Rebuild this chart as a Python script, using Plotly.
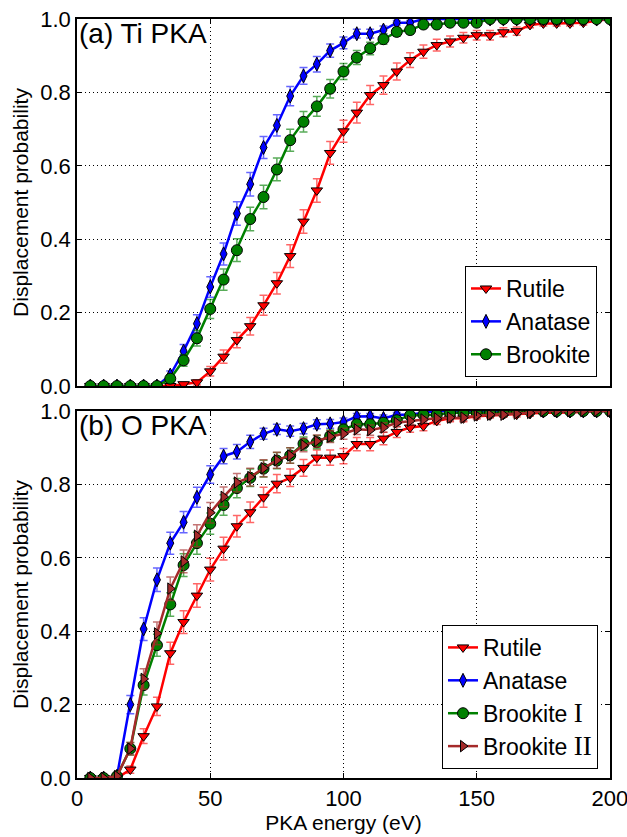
import plotly.graph_objects as go
from plotly.subplots import make_subplots

energy = [5, 10, 15, 20, 25, 30, 35, 40, 45, 50, 55, 60, 65, 70, 75, 80, 85, 90, 95, 100,
          105, 110, 115, 120, 125, 130, 135, 140, 145, 150, 155, 160, 165, 170, 175, 180, 185, 190, 195, 200]

# (a) Ti PKA
ti_rutile = [0, 0, 0, 0, 0, 0, 0, 0.005, 0.01, 0.04, 0.08, 0.125, 0.163, 0.22, 0.28, 0.354, 0.448, 0.533, 0.635, 0.694,
             0.745, 0.793, 0.82, 0.857, 0.888, 0.911, 0.929, 0.939, 0.949, 0.956, 0.956, 0.964, 0.967, 0.984, 0.988, 0.988, 0.988, 0.99, 0.995, 1.0]
ti_rutile_err = [0, 0, 0, 0, 0, 0, 0, 0.005, 0.007, 0.013, 0.018, 0.021, 0.024, 0.027, 0.029, 0.031, 0.032, 0.032, 0.031, 0.03,
                 0.028, 0.026, 0.025, 0.023, 0.02, 0.018, 0.016, 0.015, 0.014, 0.013, 0.013, 0.012, 0.011, 0.008, 0.007, 0.007, 0.007, 0.006, 0.005, 0]
ti_anatase = [0, 0, 0, 0, 0, 0, 0.03, 0.095, 0.17, 0.27, 0.36, 0.47, 0.55, 0.65, 0.71, 0.79, 0.845, 0.877, 0.914, 0.935,
              0.96, 0.96, 0.97, 0.99, 0.99, 1.0, 1.0, 1.0, 1.0, 1.0, 1.0, 1.0, 1.0, 1.0, 1.0, 1.0, 1.0, 1.0, 1.0, 1.0]
ti_anatase_err = [0, 0, 0, 0, 0, 0, 0.011, 0.018, 0.024, 0.028, 0.03, 0.032, 0.032, 0.03, 0.029, 0.026, 0.023, 0.021, 0.018, 0.016,
                  0.012, 0.012, 0.011, 0.006, 0.006, 0, 0, 0, 0, 0, 0, 0, 0, 0, 0, 0, 0, 0, 0, 0]
ti_brookite = [0, 0, 0, 0, 0, 0, 0.02, 0.07, 0.13, 0.21, 0.29, 0.37, 0.455, 0.515, 0.59, 0.67, 0.72, 0.762, 0.81, 0.857,
               0.895, 0.92, 0.945, 0.965, 0.97, 0.985, 0.985, 0.99, 0.99, 0.99, 1.0, 1.0, 1.0, 1.0, 1.0, 1.0, 1.0, 1.0, 1.0, 1.0]
ti_brookite_err = [0, 0, 0, 0, 0, 0, 0.009, 0.016, 0.021, 0.026, 0.029, 0.031, 0.032, 0.032, 0.031, 0.03, 0.028, 0.027, 0.025, 0.022,
                   0.019, 0.017, 0.014, 0.012, 0.011, 0.008, 0.008, 0.006, 0.006, 0.006, 0, 0, 0, 0, 0, 0, 0, 0, 0, 0]

# (b) O PKA
o_rutile = [0, 0, 0, 0.023, 0.114, 0.195, 0.34, 0.425, 0.497, 0.568, 0.625, 0.686, 0.724, 0.765, 0.802, 0.818, 0.845, 0.873, 0.873, 0.877,
            0.91, 0.91, 0.925, 0.943, 0.955, 0.959, 0.973, 0.98, 0.98, 0.986, 0.988, 0.99, 0.99, 0.992, 0.995, 0.995, 0.995, 0.997, 1.0, 1.0]
o_rutile_err = [0, 0, 0, 0.01, 0.02, 0.025, 0.03, 0.031, 0.032, 0.031, 0.031, 0.029, 0.028, 0.027, 0.025, 0.024, 0.023, 0.021, 0.021, 0.021,
                0.018, 0.018, 0.017, 0.015, 0.013, 0.013, 0.01, 0.009, 0.009, 0.008, 0.007, 0.006, 0.006, 0.006, 0.004, 0.004, 0.004, 0.003, 0, 0]
o_anatase = [0, 0, 0.005, 0.2, 0.406, 0.54, 0.64, 0.697, 0.765, 0.827, 0.877, 0.889, 0.916, 0.938, 0.95, 0.945, 0.952, 0.964, 0.965, 0.97,
             0.985, 0.986, 0.98, 0.99, 0.99, 0.995, 1.0, 1.0, 1.0, 1.0, 1.0, 1.0, 1.0, 1.0, 1.0, 1.0, 1.0, 1.0, 1.0, 1.0]
o_anatase_err = [0, 0, 0.004, 0.025, 0.031, 0.032, 0.03, 0.029, 0.027, 0.024, 0.021, 0.02, 0.018, 0.015, 0.014, 0.014, 0.014, 0.012, 0.012, 0.011,
                 0.008, 0.007, 0.009, 0.006, 0.006, 0.004, 0, 0, 0, 0, 0, 0, 0, 0, 0, 0, 0, 0, 0, 0]
o_brookite1 = [0, 0, 0.005, 0.08, 0.253, 0.362, 0.473, 0.58, 0.64, 0.693, 0.744, 0.79, 0.818, 0.843, 0.865, 0.879, 0.911, 0.915, 0.932, 0.95,
               0.964, 0.964, 0.968, 0.975, 0.988, 0.99, 0.99, 0.995, 0.995, 0.995, 0.995, 0.995, 1.0, 1.0, 1.0, 1.0, 1.0, 1.0, 1.0, 1.0]
o_brookite1_err = [0, 0, 0.004, 0.017, 0.027, 0.03, 0.032, 0.031, 0.03, 0.029, 0.028, 0.026, 0.024, 0.023, 0.022, 0.021, 0.018, 0.018, 0.016, 0.014,
                   0.012, 0.012, 0.011, 0.01, 0.007, 0.006, 0.006, 0.004, 0.004, 0.004, 0.004, 0.004, 0, 0, 0, 0, 0, 0, 0, 0]
o_brookite2 = [0, 0, 0.005, 0.08, 0.27, 0.394, 0.516, 0.59, 0.66, 0.723, 0.766, 0.805, 0.82, 0.844, 0.866, 0.879, 0.907, 0.918, 0.93, 0.938,
               0.95, 0.948, 0.955, 0.968, 0.973, 0.977, 0.98, 0.982, 0.982, 0.988, 0.99, 0.99, 0.993, 0.995, 1.0, 1.0, 1.0, 1.0, 1.0, 1.0]
o_brookite2_err = [0, 0, 0.004, 0.017, 0.028, 0.031, 0.032, 0.031, 0.03, 0.028, 0.027, 0.025, 0.024, 0.023, 0.022, 0.021, 0.018, 0.017, 0.016, 0.015,
                   0.014, 0.014, 0.013, 0.011, 0.01, 0.009, 0.009, 0.008, 0.008, 0.007, 0.006, 0.006, 0.005, 0.004, 0, 0, 0, 0, 0, 0]

x_ticks = [0, 50, 100, 150, 200]
y_ticks = [0, 0.2, 0.4, 0.6, 0.8, 1.0]

FONT = "Liberation Sans, Arial, sans-serif"
SERIF = "Liberation Serif"
ROMAN = "<span style='font-family:" + SERIF + ";font-size:27px'>{}</span>"

fig = make_subplots(rows=2, cols=1, shared_xaxes=False, vertical_spacing=0.0329)


def add(row, name, y, err, color, ecolor, symbol, size, legend):
    fig.add_trace(go.Scatter(
        x=energy, y=y, name=name, mode="lines+markers",
        line=dict(color=color, width=2.5),
        marker=dict(symbol=symbol, size=size, color=color, line=dict(color="black", width=1)),
        error_y=dict(type="data", array=err, visible=True, color=ecolor, thickness=1.5, width=4),
        legend=legend, cliponaxis=True,
    ), row=row, col=1)


add(1, "Rutile", ti_rutile, ti_rutile_err, "#ff0000", "rgba(255,0,0,0.6)", "triangle-down", 10, "legend")
add(1, "Anatase", ti_anatase, ti_anatase_err, "#0000ff", "rgba(0,0,255,0.6)", "diamond-tall", 10, "legend")
add(1, "Brookite", ti_brookite, ti_brookite_err, "#008000", "rgba(0,128,0,0.65)", "circle", 11, "legend")

add(2, "Rutile", o_rutile, o_rutile_err, "#ff0000", "rgba(255,0,0,0.6)", "triangle-down", 10, "legend2")
add(2, "Anatase", o_anatase, o_anatase_err, "#0000ff", "rgba(0,0,255,0.6)", "diamond-tall", 10, "legend2")
add(2, "Brookite " + ROMAN.format("I"), o_brookite1, o_brookite1_err,
    "#008000", "rgba(0,128,0,0.65)", "circle", 11, "legend2")
add(2, "Brookite " + ROMAN.format("II"), o_brookite2, o_brookite2_err,
    "#a52a2a", "rgba(165,42,42,0.65)", "triangle-right", 10, "legend2")

axis_common = dict(
    showline=True, linecolor="black", linewidth=1.5, mirror="allticks",
    ticks="inside", ticklen=5, tickcolor="black", tickwidth=1,
    showgrid=True, gridcolor="black", gridwidth=1, griddash="1px,3px",
    zeroline=False, automargin=False, tickfont=dict(family=FONT, size=22, color="black"),
)

for r in (1, 2):
    fig.update_xaxes(range=[0, 200.01], tickvals=x_ticks, ticklabeloverflow="allow", row=r, col=1, **axis_common)
    fig.update_yaxes(range=[0, 1.0001], tickvals=y_ticks, tickformat=".1f",
                     title=dict(text="Displacement probability", font=dict(family=FONT, size=21, color="black"), standoff=6),
                     row=r, col=1, **axis_common)

fig.update_xaxes(showticklabels=False, row=1, col=1)
fig.update_xaxes(title=dict(text="PKA energy (eV)", font=dict(family=FONT, size=21, color="black"), standoff=0), row=2, col=1)

fig.update_layout(
    width=627, height=837,
    margin=dict(l=77, r=17, t=19, b=59),
    paper_bgcolor="white", plot_bgcolor="white",
    font=dict(family=FONT, size=21, color="black"),
    showlegend=True,
    legend=dict(x=0.9756, y=0.5283, xanchor="right", yanchor="bottom",
                bordercolor="black", borderwidth=1, bgcolor="white",
                font=dict(family=FONT, size=23, color="black"), tracegroupgap=0),
    legend2=dict(x=0.9775, y=0.0119, xanchor="right", yanchor="bottom",
                 bordercolor="black", borderwidth=1, bgcolor="white",
                 font=dict(family=FONT, size=23, color="black"), tracegroupgap=0),
    annotations=[
        dict(text="(a) Ti PKA", xref="x domain", yref="y domain", x=0.0, y=1.0, xanchor="left", yanchor="top",
             showarrow=False, font=dict(family=FONT, size=28, color="black"), xshift=0, yshift=3),
        dict(text="(b) O PKA", xref="x2 domain", yref="y2 domain", x=0.0, y=1.0, xanchor="left", yanchor="top",
             showarrow=False, font=dict(family=FONT, size=28, color="black"), xshift=0, yshift=3),
    ],
)

fig.write_html("out.html")
